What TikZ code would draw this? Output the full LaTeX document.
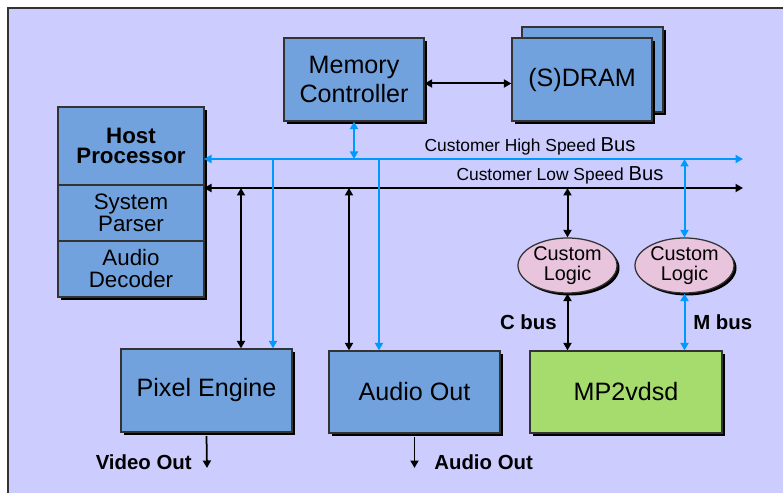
\documentclass[tikz,border=0pt]{standalone}
\usepackage{fontspec}
\setmainfont{Liberation Sans}
\usepackage{tikz}
\usetikzlibrary{shapes.geometric, positioning, arrows.meta, shadows}
\definecolor{panelbg}{RGB}{204,204,255}
\definecolor{blockblue}{RGB}{114,162,221}
\definecolor{busblue}{RGB}{0,153,255}
\definecolor{logicpink}{RGB}{232,196,221}
\definecolor{coregreen}{RGB}{166,219,110}
\tikzset{
  block/.style={rectangle, draw=black!80, line width=0.25mm, fill=blockblue, align=center,
    font=\fontsize{14.3}{17}\selectfont, inner sep=0pt,
    drop shadow={shadow xshift=0.6mm, shadow yshift=-0.6mm, fill=black, opacity=1}},
  hostpart/.style={block, font=\fontsize{12.7}{12.5}\selectfont, minimum width=29.2mm, minimum height=11.2mm},
  logic/.style={ellipse, draw=black!80, line width=0.25mm, fill=logicpink, align=center,
    font=\fontsize{11.3}{11.3}\selectfont, inner sep=0pt, minimum width=19.8mm, minimum height=11mm,
    drop shadow={shadow xshift=0.5mm, shadow yshift=-0.5mm, fill=black, opacity=1}},
  blkwire/.style={line width=0.4mm, black},
  bluewire/.style={line width=0.4mm, busblue},
  both/.style={{Triangle[length=1.5mm,width=1.6mm]}-{Triangle[length=1.5mm,width=1.6mm]}},
  down/.style={-{Triangle[length=1.5mm,width=1.6mm]}},
  outlabel/.style={font=\bfseries\fontsize{11.6}{13}\selectfont, inner sep=0pt},
  buslabel/.style={font=\fontsize{9.9}{11}\selectfont, inner sep=0pt}
}
\begin{document}
\begin{tikzpicture}[x=0.2mm, y=-0.2mm]
    % Panel
    \useasboundingbox (0,0) rectangle (783,493);
    \fill[panelbg] (8,8) rectangle (783,493);
    \draw[black!80, line width=0.35mm] (8,493) -- (8,8) -- (783,8);

    % Memory side
    \node[block, minimum width=28mm, minimum height=16.6mm] (mem) at (354,79.5) {Memory\\Controller};
    \node[block, minimum width=28.2mm, minimum height=17mm] (dramback) at (592.5,69.5) {};
    \node[block, minimum width=28mm, minimum height=16.6mm] (dram) at (582,79.5) {(S)DRAM};

    % Host processor stack
    \node[hostpart, font=\bfseries\fontsize{12.7}{11.5}\selectfont, minimum height=15.6mm] (host) at (131,146) {Host\\Processor};
    \node[hostpart] (parser) at (131,213) {System\\Parser};
    \node[hostpart] (adec) at (131,269) {Audio\\Decoder};

    % Lower blocks
    \node[block, minimum width=34.2mm, minimum height=16.6mm] (pixel) at (206.5,390.5) {Pixel Engine};
    \node[block, minimum width=34.2mm, minimum height=16.4mm] (aout) at (414.5,392) {Audio Out};
    \node[block, fill=coregreen, minimum width=38.4mm, minimum height=16.4mm] (mp2) at (626,392) {MP2vdsd};

    % Custom logic
    \node[logic] (clogA) at (567.5,265.5) {Custom\\Logic};
    \node[logic] (clogB) at (684.5,265.5) {Custom\\Logic};

    % Buses
    \coordinate (hsL) at (204,159);
    \coordinate (hsR) at (743,159);
    \coordinate (lsL) at (204,188);
    \coordinate (lsR) at (743,188);
    \draw[bluewire, both] (hsL) -- (hsR);
    \draw[blkwire, both] (lsL) -- (lsR);
    \node[buslabel] (hslabel) at (530,146) {Customer High Speed \fontsize{11.5}{12}\selectfont Bus};
    \node[buslabel] (lslabel) at (560,175.5) {Customer Low Speed \fontsize{11.5}{12}\selectfont Bus};

    % Memory links
    \draw[blkwire, both] ([yshift=-0.8mm]mem.east) -- ([yshift=-0.8mm]dram.west);
    \draw[bluewire, both] (mem.south) -- (mem.south |- hsL);

    % Drops to pixel engine and audio out
    \coordinate (pxA) at (241,188);
    \coordinate (pxB) at (273,159);
    \coordinate (auA) at (349,188);
    \coordinate (auB) at (379,159);
    \draw[blkwire, both] (pxA) -- (pxA |- pixel.north);
    \draw[bluewire, down] (pxB) -- (pxB |- pixel.north);
    \draw[blkwire, both] (auA) -- (auA |- aout.north);
    \draw[bluewire, down] (auB) -- (auB |- aout.north);

    % Custom logic links
    \draw[blkwire, both] (clogA.north |- lsL) -- (clogA.north);
    \draw[bluewire, both] (clogB.north |- hsL) -- (clogB.north);
    \draw[blkwire, both] (clogA.south) -- (clogA.south |- mp2.north);
    \draw[bluewire, both] (clogB.south) -- (clogB.south |- mp2.north);
    \node[outlabel, anchor=east] (cbus) at (557,322) {C bus};
    \node[outlabel, anchor=west] (mbus) at (693,322) {M bus};

    % Outputs
    \coordinate (vidout) at (207,468);
    \coordinate (audout) at (414.5,468);
    \draw[line width=0.35mm, down] (pixel.south |- 0,436) -- (vidout);
    \draw[line width=0.35mm, down] (aout.south |- 0,437) -- (audout);
    \node[outlabel, anchor=east] (vlabel) at (192,462) {Video Out};
    \node[outlabel, anchor=west] (alabel) at (434,462) {Audio Out};
\end{tikzpicture}
\end{document}
